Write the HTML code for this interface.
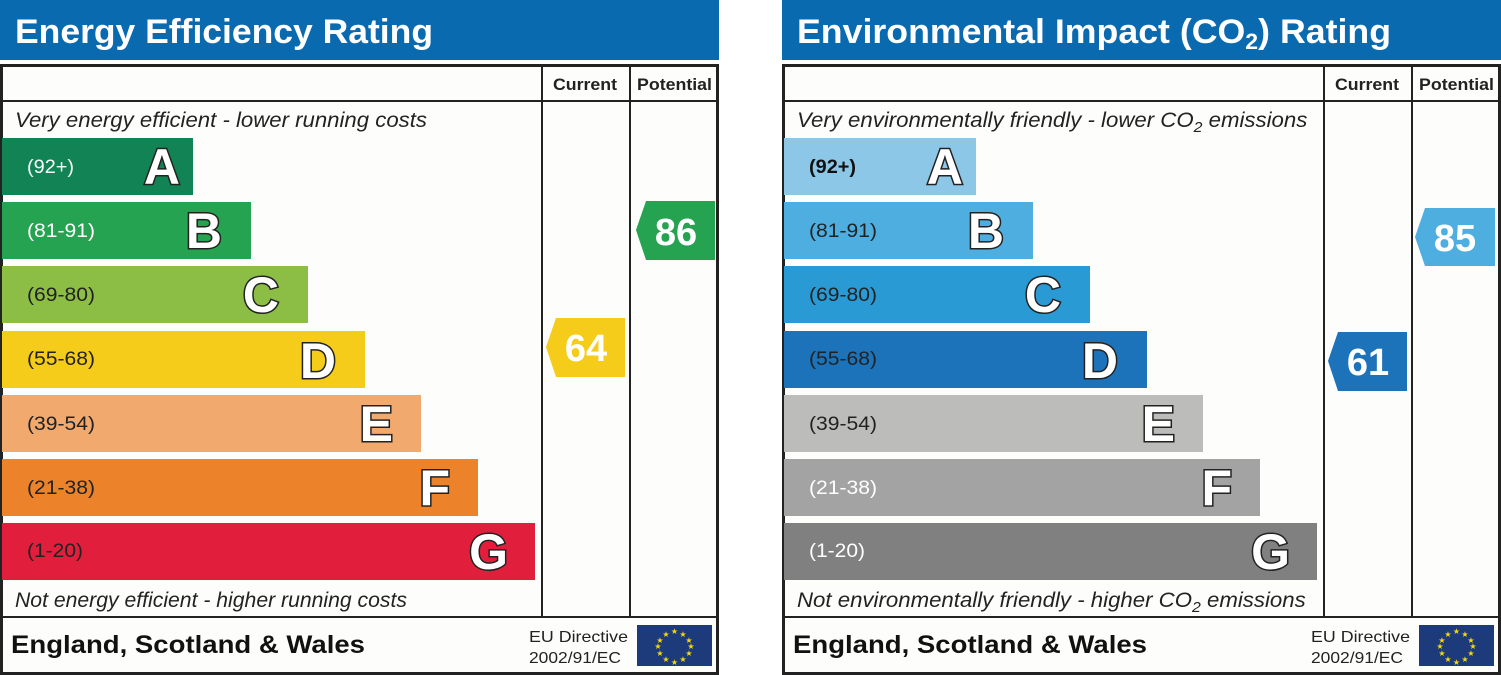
<!DOCTYPE html>
<html><head><meta charset="utf-8"><style>
html,body{margin:0;padding:0;background:#fff;}
svg{display:block;font-family:"Liberation Sans",sans-serif;}
.lt{font-size:50px;font-weight:bold;fill:#fff;stroke:#222;stroke-width:3px;paint-order:stroke;}
.rg{font-size:19px;}
</style></head><body>
<svg width="1501" height="675" viewBox="0 0 1501 675">
<rect width="1501" height="675" fill="#fff"/>
<!-- LEFT PANEL -->
<g>
<rect x="0" y="0" width="719" height="60" fill="#0a6ab0"/>
<text x="15" y="43" font-size="34" font-weight="bold" fill="#fff" textLength="418" lengthAdjust="spacingAndGlyphs">Energy Efficiency Rating</text>
<rect x="1.5" y="65.5" width="716" height="608" fill="#fdfdfc" stroke="#222" stroke-width="3"/>
<line x1="542" y1="65" x2="542" y2="617" stroke="#222" stroke-width="2"/>
<line x1="630" y1="65" x2="630" y2="617" stroke="#222" stroke-width="2"/>
<line x1="0" y1="101" x2="719" y2="101" stroke="#222" stroke-width="2"/>
<line x1="0" y1="617" x2="719" y2="617" stroke="#222" stroke-width="2"/>
<text x="553" y="90" font-size="17" font-weight="bold" fill="#222" textLength="64" lengthAdjust="spacingAndGlyphs">Current</text>
<text x="637" y="90" font-size="17" font-weight="bold" fill="#222" textLength="75" lengthAdjust="spacingAndGlyphs">Potential</text>
<text x="15" y="127" font-size="21" font-style="italic" fill="#222" textLength="412" lengthAdjust="spacingAndGlyphs">Very energy efficient - lower running costs</text>
<text x="15" y="607" font-size="21" font-style="italic" fill="#222" textLength="392" lengthAdjust="spacingAndGlyphs">Not energy efficient - higher running costs</text>
<rect x="2" y="138" width="191" height="57" fill="#128354"/>
<text x="27" y="173" class="rg" fill="#fff" textLength="47" lengthAdjust="spacingAndGlyphs">(92+)</text><text x="180" y="184" class="lt" text-anchor="end">A</text>
<rect x="2" y="202" width="249" height="57" fill="#25a350"/>
<text x="27" y="237" class="rg" fill="#fff" textLength="68" lengthAdjust="spacingAndGlyphs">(81-91)</text><text x="222" y="248" class="lt" text-anchor="end">B</text>
<rect x="2" y="266" width="306" height="57" fill="#8cbd44"/>
<text x="27" y="301" class="rg" fill="#222" textLength="68" lengthAdjust="spacingAndGlyphs">(69-80)</text><text x="279" y="312" class="lt" text-anchor="end">C</text>
<rect x="2" y="331" width="363" height="57" fill="#f5cc1a"/>
<text x="27" y="365" class="rg" fill="#222" textLength="68" lengthAdjust="spacingAndGlyphs">(55-68)</text><text x="336" y="378" class="lt" text-anchor="end">D</text>
<rect x="2" y="395" width="419" height="57" fill="#f2a96e"/>
<text x="27" y="430" class="rg" fill="#222" textLength="68" lengthAdjust="spacingAndGlyphs">(39-54)</text><text x="393" y="441" class="lt" text-anchor="end">E</text>
<rect x="2" y="459" width="476" height="57" fill="#ec8229"/>
<text x="27" y="494" class="rg" fill="#222" textLength="68" lengthAdjust="spacingAndGlyphs">(21-38)</text><text x="450" y="505" class="lt" text-anchor="end">F</text>
<rect x="2" y="523" width="533" height="57" fill="#e11f3d"/>
<text x="27" y="557" class="rg" fill="#222" textLength="56" lengthAdjust="spacingAndGlyphs">(1-20)</text><text x="508" y="569" class="lt" text-anchor="end">G</text>
<polygon points="646,201 715,201 715,260 646,260 636,230" fill="#25a350"/>
<text x="676" y="245" font-size="38" font-weight="bold" fill="#fff" text-anchor="middle">86</text>
<polygon points="556,318 625,318 625,377 556,377 546,347" fill="#f5cc1a"/>
<text x="586" y="361" font-size="38" font-weight="bold" fill="#fff" text-anchor="middle">64</text>
<text x="11" y="653" font-size="25" font-weight="bold" fill="#111" textLength="354" lengthAdjust="spacingAndGlyphs">England, Scotland &amp; Wales</text>
<text x="529" y="642" font-size="16" fill="#222" textLength="99" lengthAdjust="spacingAndGlyphs">EU Directive</text>
<text x="529" y="663" font-size="16" fill="#222" textLength="92" lengthAdjust="spacingAndGlyphs">2002/91/EC</text>
<rect x="637" y="625" width="75" height="41" fill="#1d3a7a"/>
<g fill="#f5d90a" font-size="8" text-anchor="middle">
<text x="674.5" y="634">★</text><text x="683" y="637">★</text><text x="689" y="643">★</text><text x="691" y="649">★</text><text x="689" y="656">★</text><text x="683" y="662">★</text><text x="674.5" y="665">★</text><text x="666" y="662">★</text><text x="660" y="656">★</text><text x="658" y="649">★</text><text x="660" y="643">★</text><text x="666" y="637">★</text>
</g>
</g>
<!-- RIGHT PANEL -->
<g transform="translate(782,0)">
<rect x="0" y="0" width="719" height="60" fill="#0a6ab0"/>
<g transform="translate(15,0) scale(1.05,1)">
<text x="0" y="43" font-size="34" font-weight="bold" fill="#fff">Environmental Impact (CO<tspan font-size="22" dy="6">2</tspan><tspan dy="-6">) Rating</tspan></text>
</g>
<rect x="1.5" y="65.5" width="716" height="608" fill="#fdfdfc" stroke="#222" stroke-width="3"/>
<line x1="542" y1="65" x2="542" y2="617" stroke="#222" stroke-width="2"/>
<line x1="630" y1="65" x2="630" y2="617" stroke="#222" stroke-width="2"/>
<line x1="0" y1="101" x2="719" y2="101" stroke="#222" stroke-width="2"/>
<line x1="0" y1="617" x2="719" y2="617" stroke="#222" stroke-width="2"/>
<text x="553" y="90" font-size="17" font-weight="bold" fill="#222" textLength="64" lengthAdjust="spacingAndGlyphs">Current</text>
<text x="637" y="90" font-size="17" font-weight="bold" fill="#222" textLength="75" lengthAdjust="spacingAndGlyphs">Potential</text>
<g transform="translate(15,0) scale(1.058,1)">
<text x="0" y="127" font-size="21" font-style="italic" fill="#222">Very environmentally friendly - lower CO<tspan font-size="15" dy="5">2</tspan><tspan dy="-5"> emissions</tspan></text>
<text x="0" y="607" font-size="21" font-style="italic" fill="#222">Not environmentally friendly - higher CO<tspan font-size="15" dy="5">2</tspan><tspan dy="-5"> emissions</tspan></text>
</g>
<rect x="2" y="138" width="192" height="57" fill="#8cc7e8"/>
<text x="27" y="173" class="rg" fill="#111" font-weight="bold" textLength="47" lengthAdjust="spacingAndGlyphs">(92+)</text><text x="181" y="184" class="lt" text-anchor="end">A</text>
<rect x="2" y="202" width="249" height="57" fill="#4eaee0"/>
<text x="27" y="237" class="rg" fill="#222" textLength="68" lengthAdjust="spacingAndGlyphs">(81-91)</text><text x="222" y="248" class="lt" text-anchor="end">B</text>
<rect x="2" y="266" width="306" height="57" fill="#2a9ad4"/>
<text x="27" y="301" class="rg" fill="#222" textLength="68" lengthAdjust="spacingAndGlyphs">(69-80)</text><text x="279" y="312" class="lt" text-anchor="end">C</text>
<rect x="2" y="331" width="363" height="57" fill="#1c73b9"/>
<text x="27" y="365" class="rg" fill="#222" textLength="68" lengthAdjust="spacingAndGlyphs">(55-68)</text><text x="336" y="378" class="lt" text-anchor="end">D</text>
<rect x="2" y="395" width="419" height="57" fill="#bcbcbb"/>
<text x="27" y="430" class="rg" fill="#222" textLength="68" lengthAdjust="spacingAndGlyphs">(39-54)</text><text x="393" y="441" class="lt" text-anchor="end">E</text>
<rect x="2" y="459" width="476" height="57" fill="#a3a3a3"/>
<text x="27" y="494" class="rg" fill="#fff" textLength="68" lengthAdjust="spacingAndGlyphs">(21-38)</text><text x="450" y="505" class="lt" text-anchor="end">F</text>
<rect x="2" y="523" width="533" height="57" fill="#808080"/>
<text x="27" y="557" class="rg" fill="#fff" textLength="56" lengthAdjust="spacingAndGlyphs">(1-20)</text><text x="508" y="569" class="lt" text-anchor="end">G</text>
<polygon points="643,208 713,208 713,266 643,266 633,237" fill="#4eaee0"/>
<text x="673" y="251" font-size="38" font-weight="bold" fill="#fff" text-anchor="middle">85</text>
<polygon points="556,332 625,332 625,391 556,391 546,361" fill="#1c73b9"/>
<text x="586" y="375" font-size="38" font-weight="bold" fill="#fff" text-anchor="middle">61</text>
<text x="11" y="653" font-size="25" font-weight="bold" fill="#111" textLength="354" lengthAdjust="spacingAndGlyphs">England, Scotland &amp; Wales</text>
<text x="529" y="642" font-size="16" fill="#222" textLength="99" lengthAdjust="spacingAndGlyphs">EU Directive</text>
<text x="529" y="663" font-size="16" fill="#222" textLength="92" lengthAdjust="spacingAndGlyphs">2002/91/EC</text>
<rect x="637" y="625" width="75" height="41" fill="#1d3a7a"/>
<g fill="#f5d90a" font-size="8" text-anchor="middle">
<text x="674.5" y="634">★</text><text x="683" y="637">★</text><text x="689" y="643">★</text><text x="691" y="649">★</text><text x="689" y="656">★</text><text x="683" y="662">★</text><text x="674.5" y="665">★</text><text x="666" y="662">★</text><text x="660" y="656">★</text><text x="658" y="649">★</text><text x="660" y="643">★</text><text x="666" y="637">★</text>
</g>
</g>
</svg>
</body></html>
